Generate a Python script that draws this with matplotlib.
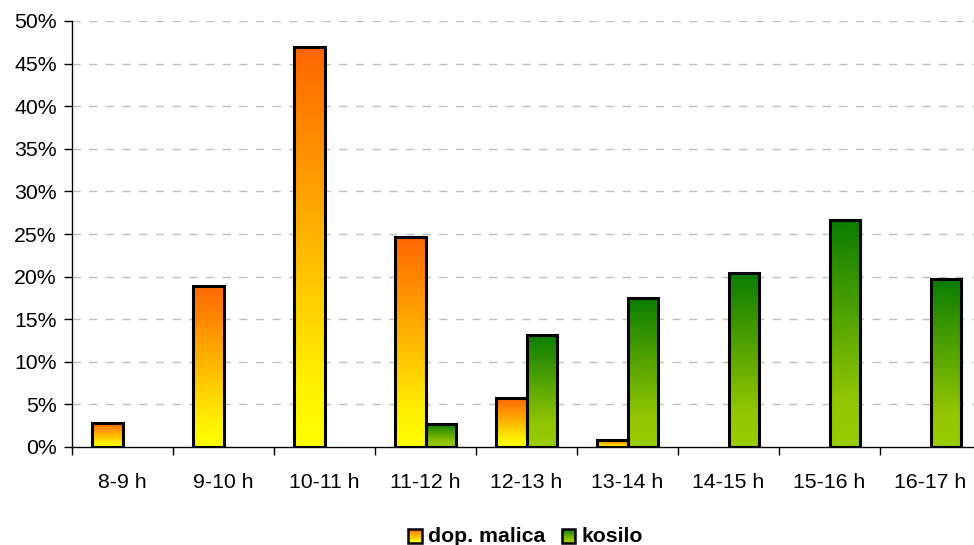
import numpy as np
import matplotlib
matplotlib.use("Agg")
import matplotlib.pyplot as plt
from matplotlib.colors import LinearSegmentedColormap
from matplotlib.patches import Rectangle
from matplotlib.legend_handler import HandlerBase
from matplotlib.ticker import FixedLocator, PercentFormatter

plt.rcParams['font.family'] = ['Liberation Sans', 'DejaVu Sans']

# Data
hours = ["8-9 h", "9-10 h", "10-11 h", "11-12 h", "12-13 h",
         "13-14 h", "14-15 h", "15-16 h", "16-17 h"]
malica = [2.8, 18.9, 46.9, 24.7, 5.7, 0.8, 0, 0, 0]
kosilo = [0, 0, 0, 2.7, 13.2, 17.5, 20.4, 26.6, 19.7]
series_names = ["dop. malica", "kosilo"]

# Gradient colormaps (bottom -> top)
cmap_malica = LinearSegmentedColormap.from_list(
    "malica", [(0, "#ffff00"), (0.15, "#fff200"), (1, "#ff6600")])
cmap_kosilo = LinearSegmentedColormap.from_list(
    "kosilo", [(0, "#99cc00"), (0.2, "#93c600"), (1, "#0a7c00")])

grad = np.linspace(0, 1, 256).reshape(-1, 1)
FS = 15.3


def gradient_bar(ax, x0, w, h, cmap):
    if h <= 0:
        return
    ax.imshow(grad, cmap=cmap, origin="lower", aspect="auto",
              extent=(x0, x0 + w, 0, h), zorder=2, interpolation="bilinear")
    ax.add_patch(Rectangle((x0, 0), w, h, fill=False, edgecolor="black",
                           linewidth=2.2, zorder=3))


class GradientHandler(HandlerBase):
    def __init__(self, cmap):
        super().__init__()
        self.cmap = cmap

    def create_artists(self, legend, orig_handle, xdescent, ydescent,
                       width, height, fontsize, trans):
        s = height * 0.9
        x0 = -xdescent + (width - s)
        y0 = -ydescent
        arts = []
        n = 20
        for i in range(n):
            r = Rectangle((x0, y0 + s * i / n), s, s / n + 0.05,
                          facecolor=self.cmap((i + 0.5) / n), edgecolor="none",
                          transform=trans)
            arts.append(r)
        arts.append(Rectangle((x0, y0), s, s, fill=False, edgecolor="black",
                              linewidth=1.8, transform=trans))
        return arts


fig = plt.figure(figsize=(9.74, 5.45), dpi=100)
# axes extends slightly past the right edge, as in the reference
ax = fig.add_axes([72 / 974, (545 - 447) / 545, 909 / 974, 426 / 545])

bw = 0.3
for i in range(len(hours)):
    gradient_bar(ax, i + 0.5 - bw, bw, malica[i], cmap_malica)
    gradient_bar(ax, i + 0.5, bw, kosilo[i], cmap_kosilo)

ax.set_xlim(0, len(hours))
ax.set_ylim(0, 50)

ax.yaxis.set_major_locator(FixedLocator(np.arange(0, 51, 5)))
ax.yaxis.set_major_formatter(PercentFormatter(decimals=0))
ax.set_xticks(np.arange(0, len(hours) + 1))
ax.set_xticklabels([])
ax.set_xticks(np.arange(len(hours)) + 0.5, minor=True)
ax.set_xticklabels(hours, minor=True)
ax.tick_params(axis="x", which="major", length=6, width=1, direction="out")
ax.tick_params(axis="x", which="minor", length=0, pad=19, labelsize=FS)
ax.tick_params(axis="y", length=6, width=1, direction="out", pad=5,
               labelsize=FS)

for v in np.arange(5, 51, 5):
    ax.axhline(v, color="#c0c0c0", linestyle=(0, (6, 6)), linewidth=1,
               zorder=1)

for sp in ["top", "right"]:
    ax.spines[sp].set_visible(False)
for sp in ["left", "bottom"]:
    ax.spines[sp].set_linewidth(1)
    ax.spines[sp].set_zorder(4)

h1 = Rectangle((0, 0), 1, 1)
h2 = Rectangle((0, 0), 1, 1)
fig.legend([h1, h2], series_names, loc="center", bbox_to_anchor=(524 / 974, 1 - 537 / 545),
           ncol=2, frameon=False, handler_map={h1: GradientHandler(cmap_malica),
                                               h2: GradientHandler(cmap_kosilo)},
           prop={"weight": "bold", "size": FS}, handlelength=0.8,
           handletextpad=0.3, columnspacing=0.6)

fig.savefig("out.png", dpi=100)
